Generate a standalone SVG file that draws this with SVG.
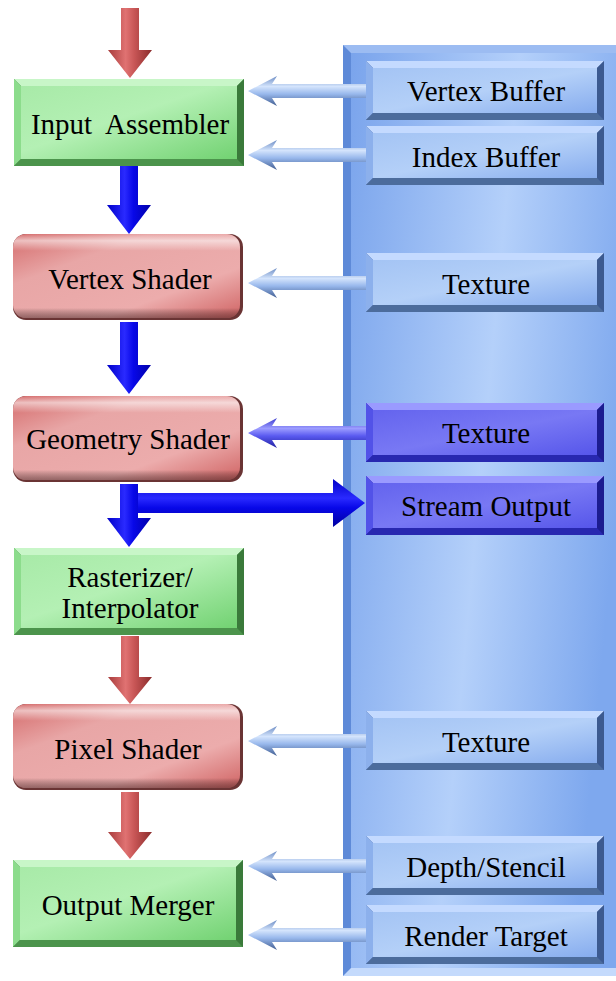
<svg xmlns="http://www.w3.org/2000/svg" xmlns:xlink="http://www.w3.org/1999/xlink" width="616" height="981" viewBox="0 0 616 981">
<style>
.t{font-family:'Liberation Serif','DejaVu Serif',serif;font-size:29px;fill:#000;text-anchor:middle}
</style>
<defs>
<linearGradient id="gFace" x1="0" y1="0" x2="1" y2="1"><stop offset="0" stop-color="#a8eaa8"/><stop offset="0.45" stop-color="#b4f0b4"/><stop offset="1" stop-color="#72d272"/></linearGradient>
<linearGradient id="bFace" x1="0" y1="0" x2="1" y2="1"><stop offset="0" stop-color="#a4c4f4"/><stop offset="0.5" stop-color="#b4d0f8"/><stop offset="1" stop-color="#86acee"/></linearGradient>
<linearGradient id="pFace" x1="0" y1="0" x2="1" y2="1"><stop offset="0" stop-color="#6464ee"/><stop offset="0.5" stop-color="#7878f4"/><stop offset="1" stop-color="#5656ea"/></linearGradient>
<linearGradient id="rFace" x1="0" y1="0" x2="1" y2="1"><stop offset="0" stop-color="#d46a6a"/><stop offset="0.3" stop-color="#e8a6a6"/><stop offset="0.7" stop-color="#ecacac"/><stop offset="1" stop-color="#d06464"/></linearGradient>
<linearGradient id="rHi" x1="0" y1="0" x2="0" y2="1"><stop offset="0" stop-color="#ffffff" stop-opacity="0"/><stop offset="0.08" stop-color="#ffffff" stop-opacity="0.55"/><stop offset="0.2" stop-color="#ffffff" stop-opacity="0"/><stop offset="0.88" stop-color="#000" stop-opacity="0"/><stop offset="1" stop-color="#402020" stop-opacity="0.5"/></linearGradient>
<linearGradient id="panel" x1="0" y1="0" x2="1" y2="0.3"><stop offset="0" stop-color="#7aa4ec"/><stop offset="0.55" stop-color="#b4d0fa"/><stop offset="1" stop-color="#7ea8ee"/></linearGradient>
<linearGradient id="redArrow" x1="0" y1="0" x2="1" y2="0"><stop offset="0" stop-color="#a83c3c"/><stop offset="0.4" stop-color="#e07272"/><stop offset="0.6" stop-color="#c85656"/><stop offset="1" stop-color="#8a2c2c"/></linearGradient>
<linearGradient id="blueArrow" x1="0" y1="0" x2="1" y2="0"><stop offset="0" stop-color="#0000c8"/><stop offset="0.4" stop-color="#2a2aff"/><stop offset="0.6" stop-color="#0808e8"/><stop offset="1" stop-color="#0000a8"/></linearGradient>
<linearGradient id="blueArrowH" x1="0" y1="0" x2="0" y2="1"><stop offset="0" stop-color="#0000c8"/><stop offset="0.4" stop-color="#2a2aff"/><stop offset="0.6" stop-color="#0808e8"/><stop offset="1" stop-color="#0000a0"/></linearGradient>
<linearGradient id="ltArrow" x1="0" y1="0" x2="0" y2="1"><stop offset="0" stop-color="#6c8cc4"/><stop offset="0.35" stop-color="#d4e4fc"/><stop offset="0.6" stop-color="#98b8ec"/><stop offset="1" stop-color="#405c90"/></linearGradient>
<linearGradient id="pArrow" x1="0" y1="0" x2="0" y2="1"><stop offset="0" stop-color="#3a3ad0"/><stop offset="0.35" stop-color="#9c9cff"/><stop offset="0.6" stop-color="#5a5af0"/><stop offset="1" stop-color="#2020a0"/></linearGradient>

<g id="greenBox">
<rect x="0" y="0" width="230" height="87" fill="#4a8a4a"/>
<polygon points="0,0 230,0 223,7 7,7" fill="#c8f6c8"/>
<polygon points="0,0 7,7 7,80 0,87" fill="#8cdc8c"/>
<polygon points="0,87 7,80 223,80 230,87" fill="#4c944c"/>
<polygon points="230,0 230,87 223,80 223,7" fill="#3a7a3a"/>
<rect x="7" y="7" width="216" height="73" fill="url(#gFace)"/>
</g>
<g id="blueBox">
<rect x="0" y="0" width="238" height="59" fill="#4a6aa8"/>
<polygon points="0,0 238,0 231,7 7,7" fill="#c4daff"/>
<polygon points="0,0 7,7 7,52 0,59" fill="#8cb0ec"/>
<polygon points="0,59 7,52 231,52 238,59" fill="#4c6c9c"/>
<polygon points="238,0 238,59 231,52 231,7" fill="#3c5a90"/>
<rect x="7" y="7" width="224" height="45" fill="url(#bFace)"/>
</g>
<g id="purpleBox">
<rect x="0" y="0" width="238" height="59" fill="#2020a0"/>
<polygon points="0,0 238,0 231,7 7,7" fill="#9a9aff"/>
<polygon points="0,0 7,7 7,52 0,59" fill="#5252e8"/>
<polygon points="0,59 7,52 231,52 238,59" fill="#2828b0"/>
<polygon points="238,0 238,59 231,52 231,7" fill="#1c1c90"/>
<rect x="7" y="7" width="224" height="45" fill="url(#pFace)"/>
</g>
<g id="redBox">
<rect x="0" y="0" width="230" height="86" rx="13" fill="#6a3434"/>
<rect x="0" y="0" width="227" height="84" rx="13" fill="url(#rFace)"/>
<rect x="0" y="0" width="227" height="84" rx="13" fill="url(#rHi)"/>
</g>
<path id="ltArrowShape" d="M0,0 L29,-15 L24,-7 L119,-7 L119,7 L24,7 L29,15 Z"/>
</defs>

<!-- background panel -->
<g id="panelBg">
<rect x="343" y="45" width="290" height="931" fill="#5e8ad8"/>
<polygon points="343,45 633,45 633,53 351,53" fill="#9cbcf2"/>
<polygon points="343,976 351,968 633,968 633,976" fill="#c4dafc"/>
<rect x="351" y="53" width="282" height="915" fill="url(#panel)"/>
</g>

<!-- connectors -->
<g id="connectors">
<path d="M121,8 L139,8 L139,50 L152,50 L130,78 L108,50 L121,50 Z" fill="url(#redArrow)"/>
<path d="M120,166 L138,166 L138,205 L151,205 L129,234 L107,205 L120,205 Z" fill="url(#blueArrow)"/>
<path d="M120,322 L138,322 L138,365 L151,365 L129,394 L107,365 L120,365 Z" fill="url(#blueArrow)"/>
<path d="M120,484 L138,484 L138,518 L151,518 L129,547 L107,518 L120,518 Z" fill="url(#blueArrow)"/>
<path d="M138,493 L333,493 L333,479 L365,503 L333,527 L333,513 L138,513 Z" fill="url(#blueArrowH)"/>
<path d="M121,636 L139,636 L139,677 L152,677 L130,704 L108,677 L121,677 Z" fill="url(#redArrow)"/>
<path d="M121,792 L139,792 L139,832 L152,832 L130,859 L108,832 L121,832 Z" fill="url(#redArrow)"/>
<use xlink:href="#ltArrowShape" x="248" y="91" fill="url(#ltArrow)"/>
<use xlink:href="#ltArrowShape" x="248" y="155" fill="url(#ltArrow)"/>
<use xlink:href="#ltArrowShape" x="248" y="283" fill="url(#ltArrow)"/>
<use xlink:href="#ltArrowShape" x="248" y="433" fill="url(#pArrow)"/>
<use xlink:href="#ltArrowShape" x="248" y="741" fill="url(#ltArrow)"/>
<use xlink:href="#ltArrowShape" x="248" y="866" fill="url(#ltArrow)"/>
<use xlink:href="#ltArrowShape" x="248" y="935" fill="url(#ltArrow)"/>
</g>

<g font-family="Liberation Serif, DejaVu Serif, serif">
<g id="inputAssembler"><use xlink:href="#greenBox" x="14" y="79"/><text class="t" x="130" y="134" xml:space="preserve">Input  Assembler</text></g>
<g id="vertexShader"><use xlink:href="#redBox" x="13" y="234"/><text class="t" x="130" y="289">Vertex Shader</text></g>
<g id="geometryShader"><use xlink:href="#redBox" x="13" y="396"/><text class="t" x="128" y="449">Geometry Shader</text></g>
<g id="rasterizer"><use xlink:href="#greenBox" x="14" y="548"/><text class="t" x="130" y="587">Rasterizer/</text><text class="t" x="130" y="618">Interpolator</text></g>
<g id="pixelShader"><use xlink:href="#redBox" x="13" y="704"/><text class="t" x="128" y="759">Pixel Shader</text></g>
<g id="outputMerger"><use xlink:href="#greenBox" x="13" y="860"/><text class="t" x="128" y="915">Output Merger</text></g>

<g id="vertexBuffer"><use xlink:href="#blueBox" x="366" y="61"/><text class="t" x="486" y="101">Vertex Buffer</text></g>
<g id="indexBuffer"><use xlink:href="#blueBox" x="366" y="126"/><text class="t" x="486" y="167">Index Buffer</text></g>
<g id="textureVS"><use xlink:href="#blueBox" x="366" y="253"/><text class="t" x="486" y="294">Texture</text></g>
<g id="textureGS"><use xlink:href="#purpleBox" x="366" y="403"/><text class="t" x="486" y="443">Texture</text></g>
<g id="streamOutput"><use xlink:href="#purpleBox" x="366" y="476"/><text class="t" x="486" y="516">Stream Output</text></g>
<g id="texturePS"><use xlink:href="#blueBox" x="366" y="711"/><text class="t" x="486" y="752">Texture</text></g>
<g id="depthStencil"><use xlink:href="#blueBox" x="366" y="836"/><text class="t" x="486" y="877">Depth/Stencil</text></g>
<g id="renderTarget"><use xlink:href="#blueBox" x="366" y="905"/><text class="t" x="486" y="946">Render Target</text></g>
</g>
</svg>
